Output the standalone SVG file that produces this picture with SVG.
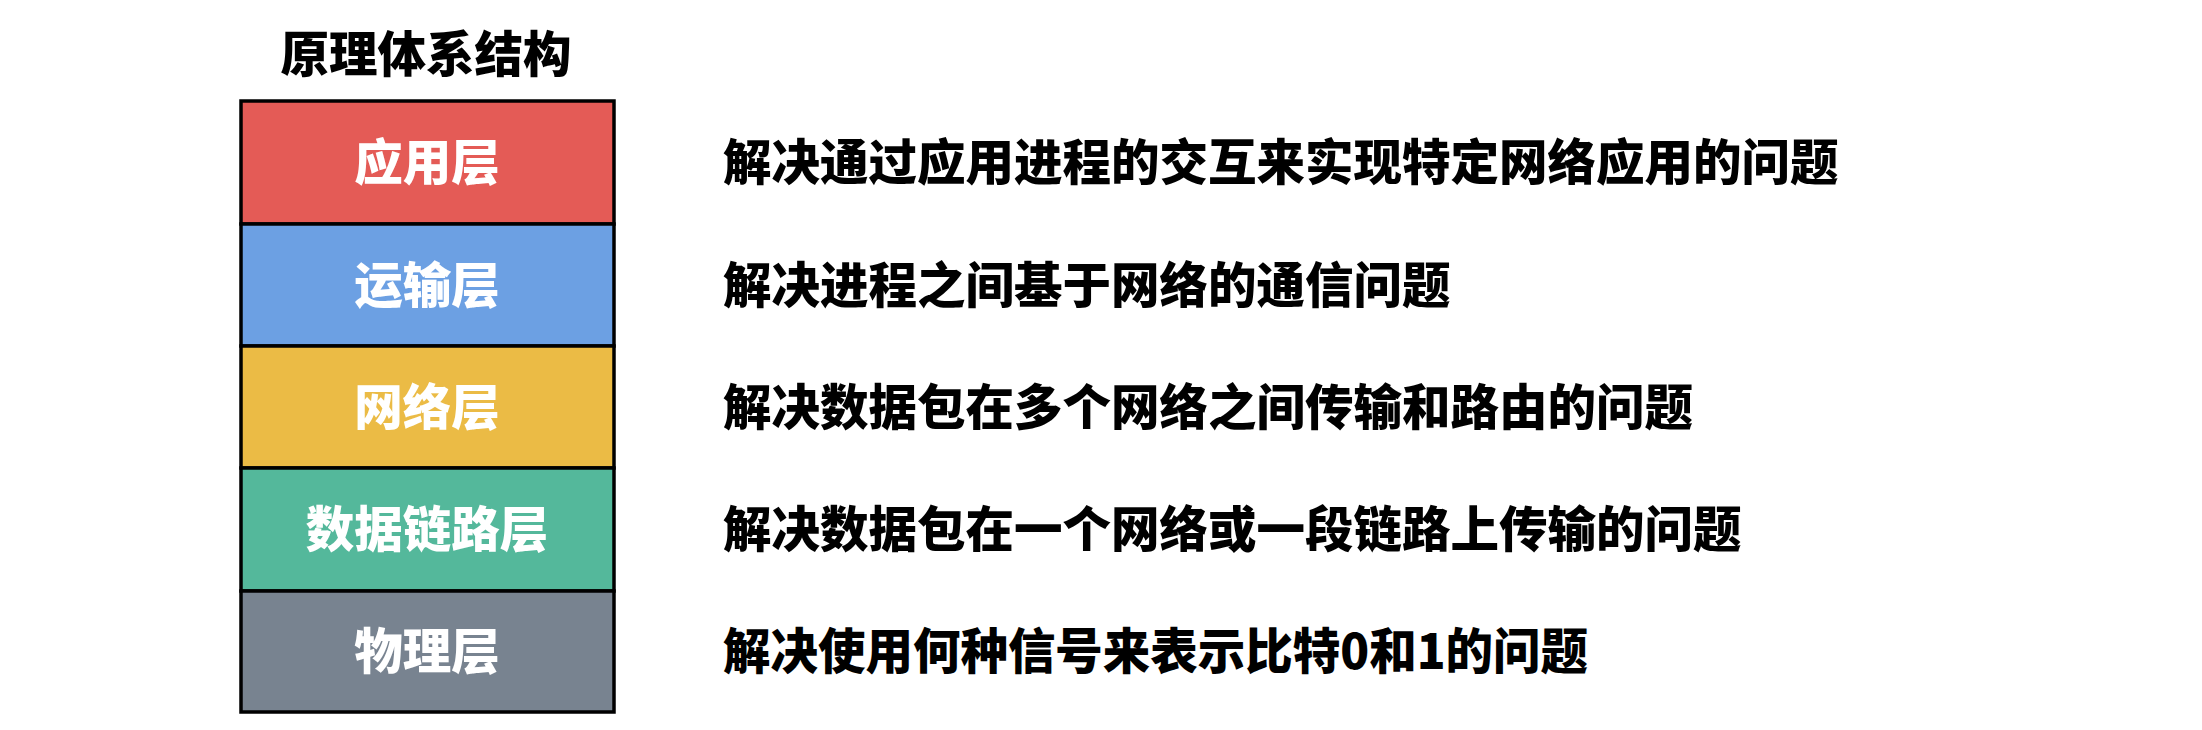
<svg xmlns="http://www.w3.org/2000/svg" width="2202" height="730" viewBox="0 0 2202 730">
<style>
text{font-family:"Noto Sans CJK SC","Noto Sans",sans-serif;font-weight:900;font-size:48.5px}
.t{fill:#000;text-anchor:middle}
.l{fill:#fff;text-anchor:middle}
.d{fill:#000}
.r{stroke:#000;stroke-width:3.5}
</style>
<rect width="2202" height="730" fill="#fff"/>
<g id="title"><text class="t" x="426" y="72">原理体系结构</text></g>
<g id="app"><rect class="r" x="241" y="101" width="373" height="123" fill="#E45B56"/><text class="l" x="427" y="180">应用层</text></g>
<g id="transport"><rect class="r" x="241" y="224" width="373" height="122" fill="#6CA0E3"/><text class="l" x="427" y="303">运输层</text></g>
<g id="network"><rect class="r" x="241" y="346" width="373" height="122" fill="#EBBB45"/><text class="l" x="427" y="425">网络层</text></g>
<g id="datalink"><rect class="r" x="241" y="468" width="373" height="123" fill="#54B89B"/><text class="l" x="427" y="547">数据链路层</text></g>
<g id="physical"><rect class="r" x="241" y="591" width="373" height="121" fill="#788390"/><text class="l" x="427" y="669">物理层</text></g>
<g id="desc-app"><text class="d" x="723" y="180">解决通过应用进程的交互来实现特定网络应用的问题</text></g>
<g id="desc-transport"><text class="d" x="723" y="303">解决进程之间基于网络的通信问题</text></g>
<g id="desc-network"><text class="d" x="723" y="425">解决数据包在多个网络之间传输和路由的问题</text></g>
<g id="desc-datalink"><text class="d" x="723" y="547">解决数据包在一个网络或一段链路上传输的问题</text></g>
<g id="desc-physical"><text class="d" x="723" y="669" textLength="865" lengthAdjust="spacingAndGlyphs">解决使用何种信号来表示比特0和1的问题</text></g>
<g id="connectors"></g>
</svg>
